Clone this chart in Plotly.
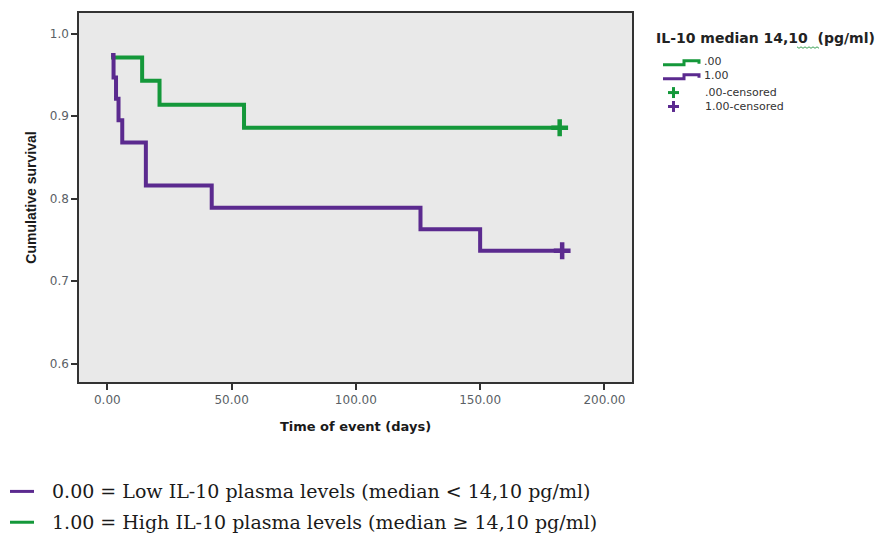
import plotly.graph_objects as go

# ---- data ----
green_time = [1.5, 14, 21, 55, 182]
green_surv = [0.971, 0.943, 0.914, 0.886, 0.886]
purple_time = [1.5, 2.5, 3.5, 4.5, 6, 15.5, 42, 126, 150, 183]
purple_surv = [0.974, 0.947, 0.921, 0.895, 0.868, 0.816, 0.789, 0.763, 0.737, 0.737]
green_cens_time = [182]
green_cens_surv = [0.886]
purple_cens_time = [183]
purple_cens_surv = [0.737]
x_ticks = [0, 50, 100, 150, 200]
x_tick_labels = ["0.00", "50.00", "100.00", "150.00", "200.00"]
y_ticks = [0.6, 0.7, 0.8, 0.9, 1.0]
y_tick_labels = ["0.6", "0.7", "0.8", "0.9", "1.0"]

GREEN = "#14983a"
PURPLE = "#5b2a8f"

W, H = 889, 535
L, T, R, B = 79, 11, 632, 382


def px(x):
    return (x - L) / (R - L)


def py(y):
    return (B - y) / (B - T)


def ppath(points):
    return "M" + " L".join(f"{px(a)},{py(b)}" for a, b in points)


fig = go.Figure()
fig.add_trace(go.Scatter(x=green_time, y=green_surv, mode="lines", line=dict(shape="hv", color=GREEN, width=4), showlegend=False))
fig.add_trace(go.Scatter(x=purple_time, y=purple_surv, mode="lines", line=dict(shape="hv", color=PURPLE, width=4), showlegend=False))
fig.add_trace(go.Scatter(x=green_cens_time, y=green_cens_surv, mode="markers",
                         marker=dict(symbol="cross-thin", size=12, line=dict(color=GREEN, width=4.5)), showlegend=False))
fig.add_trace(go.Scatter(x=purple_cens_time, y=purple_cens_surv, mode="markers",
                         marker=dict(symbol="cross-thin", size=12, line=dict(color=PURPLE, width=4.5)), showlegend=False))

tickfont = dict(family="DejaVu Sans", size=12, color="#5a5f66")
fig.update_xaxes(range=[-11.4, 211.1], tickvals=x_ticks, ticktext=x_tick_labels, tickfont=tickfont,
                 showgrid=False, zeroline=False, showline=True, linecolor="#333", linewidth=1.5, mirror=True,
                 ticks="outside", ticklen=6, tickwidth=1.5, tickcolor="#333",
                 title=dict(text="<b>Time of event (days)</b>", font=dict(family="DejaVu Sans", size=13, color="#1a1a1a"), standoff=16))
fig.update_yaxes(range=[0.578, 1.025], tickvals=y_ticks, ticktext=y_tick_labels, tickfont=tickfont,
                 showgrid=False, zeroline=False, showline=True, linecolor="#333", linewidth=1.5, mirror=True,
                 ticks="outside", ticklen=6, tickwidth=1.5, tickcolor="#333",
                 title=dict(text="<b>Cumulative survival</b>", font=dict(family="Liberation Sans Narrow, Liberation Sans", size=14, color="#1a1a1a"), standoff=10))

shapes = []
annotations = []

# right-side legend
annotations.append(dict(x=px(654), y=py(36), xref="paper", yref="paper", xanchor="left", yanchor="middle",
                        text="<b>IL-10 median 14,10  (pg/ml)</b>", showarrow=False,
                        font=dict(family="DejaVu Sans", size=14, color="#222")))
# squiggly underline
pts = [(797 + 2 * i, 45 + (1.5 if i % 2 else 0)) for i in range(0, 12)]
shapes.append(dict(type="path", path=ppath(pts), xref="paper", yref="paper", line=dict(color="#3aa055", width=1)))

for color, ylow, label in [(GREEN, 63, ".00"), (PURPLE, 77, "1.00")]:
    p = [(663, ylow), (684, ylow), (684, ylow - 4), (699, ylow - 4), (699, ylow - 1)]
    shapes.append(dict(type="path", path=ppath(p), xref="paper", yref="paper", line=dict(color=color, width=3)))
    annotations.append(dict(x=px(702), y=py(ylow - 3), xref="paper", yref="paper", xanchor="left", yanchor="middle",
                            text=label, showarrow=False, font=dict(family="DejaVu Sans", size=11, color="#333")))

for color, yc, label in [(GREEN, 91, ".00-censored"), (PURPLE, 105, "1.00-censored")]:
    shapes.append(dict(type="line", x0=px(668), x1=px(679), y0=py(yc), y1=py(yc), xref="paper", yref="paper",
                       line=dict(color=color, width=3)))
    shapes.append(dict(type="line", x0=px(673.5), x1=px(673.5), y0=py(yc - 5.5), y1=py(yc + 5.5), xref="paper", yref="paper",
                       line=dict(color=color, width=3)))
    annotations.append(dict(x=px(703), y=py(yc), xref="paper", yref="paper", xanchor="left", yanchor="middle",
                            text=label, showarrow=False, font=dict(family="DejaVu Sans", size=11, color="#333")))

# bottom legend
for color, yc, label in [(PURPLE, 492, "0.00 = Low IL-10 plasma levels (median < 14,10 pg/ml)"),
                         (GREEN, 523, "1.00 = High IL-10 plasma levels (median ≥ 14,10 pg/ml)")]:
    shapes.append(dict(type="line", x0=px(10), x1=px(34), y0=py(yc), y1=py(yc), xref="paper", yref="paper",
                       line=dict(color=color, width=3)))
    annotations.append(dict(x=px(50), y=py(yc), xref="paper", yref="paper", xanchor="left", yanchor="middle",
                            text=label, showarrow=False, font=dict(family="DejaVu Serif", size=19, color="#1a1a1a")))

fig.update_layout(width=W, height=H, margin=dict(l=L, t=T, r=W - R, b=H - B),
                  plot_bgcolor="#e9e9e9", paper_bgcolor="white", shapes=shapes, annotations=annotations,
                  showlegend=False)

fig.write_html("out.html")
